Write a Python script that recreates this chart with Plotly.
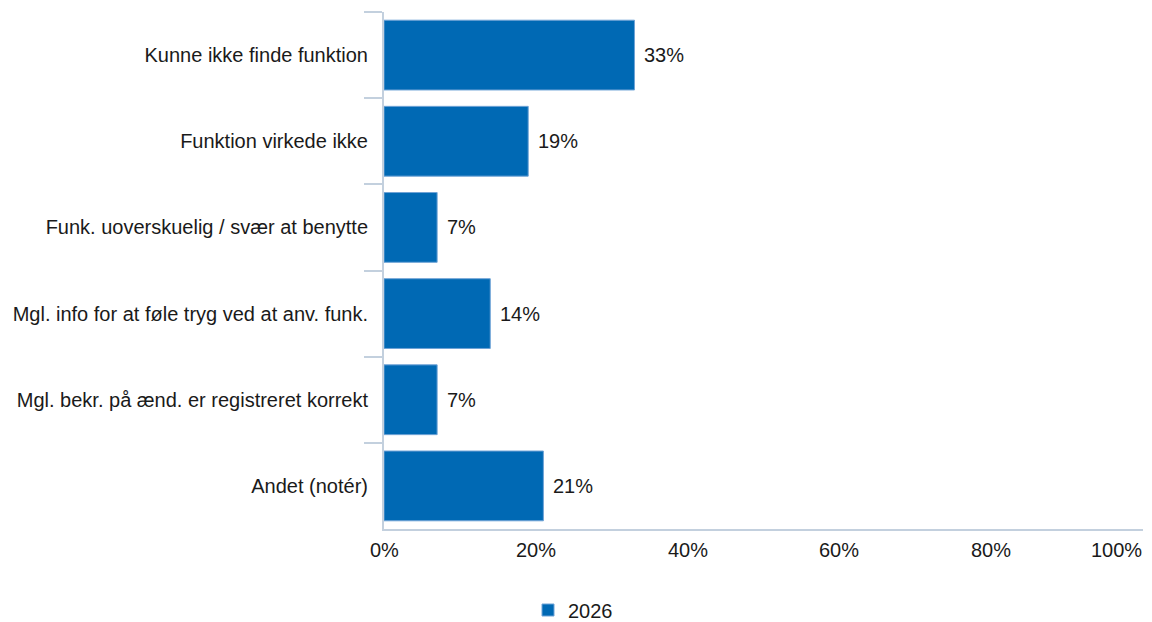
import plotly.graph_objects as go

categories = [
    "Kunne ikke finde funktion",
    "Funktion virkede ikke",
    "Funk. uoverskuelig / svær at benytte",
    "Mgl. info for at føle tryg ved at anv. funk.",
    "Mgl. bekr. på ænd. er registreret korrekt",
    "Andet (notér)",
]
values_2026 = [33, 19, 7, 14, 7, 21]
series_name = "2026"
x_ticks = [0, 20, 40, 60, 80, 100]
x_tick_labels = ["0%", "20%", "40%", "60%", "80%", "100%"]

font_family = "Liberation Sans, Arial, sans-serif"
text_color = "#1a1a1a"
bar_color = "#0069b4"
axis_color = "#c3d0de"
fs = 20

# page body has an 8px default margin, so the figure is sized/offset for it
W, H = 1136, 614

fig = go.Figure()
fig.add_trace(go.Bar(
    y=categories,
    x=values_2026,
    orientation="h",
    name=series_name,
    marker=dict(color=bar_color, line=dict(color="#6fa3d6", width=1)),
    width=0.81,
    showlegend=True,
))

# data labels
for cat, v in zip(categories, values_2026):
    fig.add_annotation(
        x=v, y=cat, xref="x", yref="y",
        text=f"{v}%", showarrow=False,
        xanchor="left", yanchor="middle", xshift=8,
        font=dict(size=fs, family=font_family, color=text_color),
    )

# x tick labels (last one right-aligned so it stays inside the figure)
for i, (t, lab) in enumerate(zip(x_ticks, x_tick_labels)):
    last = i == len(x_ticks) - 1
    fig.add_annotation(
        x=t, y=0, xref="x", yref="paper",
        text=lab, showarrow=False,
        xanchor="right" if last else "center", yanchor="top",
        xshift=1 if last else 0,
        yshift=-8,
        font=dict(size=fs, family=font_family, color=text_color),
    )

fig.update_layout(
    width=W, height=H,
    margin=dict(l=376, r=1, t=4, b=93),
    paper_bgcolor="white", plot_bgcolor="white",
    font=dict(family=font_family, size=fs, color=text_color),
    showlegend=True,
    legend=dict(
        orientation="h",
        xref="container", yref="container",
        x=520 / W, y=1 - 602 / H, xanchor="left", yanchor="middle",
        font=dict(size=fs, family=font_family, color=text_color),
        bgcolor="rgba(0,0,0,0)",
    ),
    xaxis=dict(
        range=[0, 100],
        showticklabels=False,
        showgrid=False, zeroline=False,
        showline=True, linecolor=axis_color, linewidth=2,
        ticks="", automargin=False,
    ),
    yaxis=dict(
        categoryorder="array", categoryarray=categories,
        autorange="reversed",
        showgrid=False, zeroline=False,
        showline=True, linecolor=axis_color, linewidth=2,
        ticks="outside", tickson="boundaries", ticklen=18,
        tickcolor=axis_color, tickwidth=2,
        tickfont=dict(size=fs, family=font_family, color=text_color),
        ticklabelstandoff=10,
        automargin=False,
    ),
)

fig.write_html("out.html")
